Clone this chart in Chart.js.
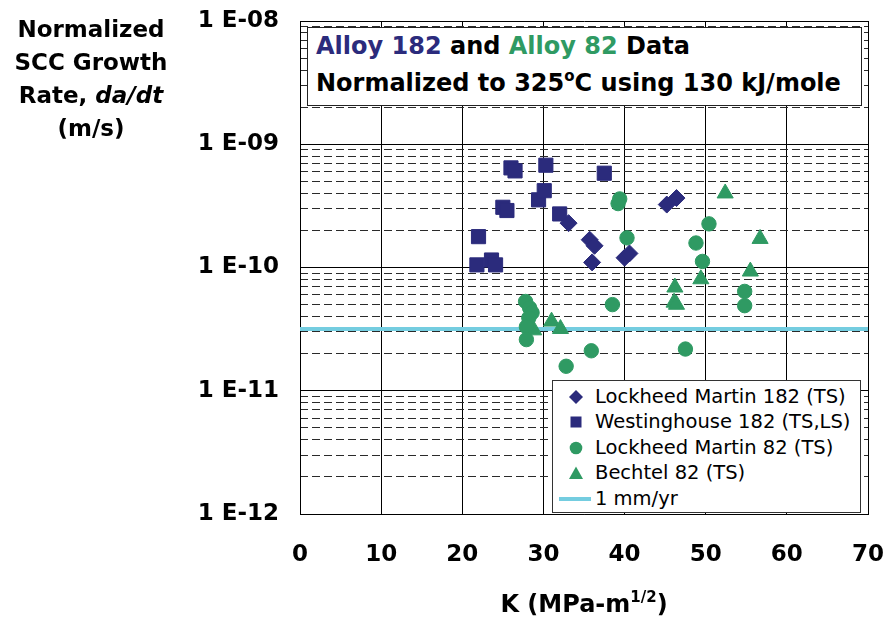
<!DOCTYPE html>
<html>
<head>
<meta charset="utf-8">
<script src="https://cdn.jsdelivr.net/npm/chart.js@4.4.1/dist/chart.umd.min.js"></script>
<style>
html,body{margin:0;padding:0;background:#fff;}
#wrap{position:relative;width:890px;height:621px;overflow:hidden;font-family:"DejaVu Sans",sans-serif;color:#000;}
#c{position:absolute;left:0;top:0;}
#ytitle{position:absolute;left:0;top:13px;width:182px;text-align:center;font-weight:bold;font-size:23px;line-height:33px;}
#xtitle{position:absolute;left:300px;width:568px;top:588px;text-align:center;font-weight:bold;font-size:24px;line-height:32px;white-space:nowrap;}
#xtitle sup,#note sup{font-size:15px;vertical-align:baseline;position:relative;top:-10px;}
#note{position:absolute;left:307px;top:27px;width:553px;height:77px;border:1px solid #222;background:#fff;font-weight:bold;font-size:24px;line-height:37px;white-space:nowrap;}
#note div{padding-left:8px;}
#legend{position:absolute;left:552px;top:380px;width:307px;height:131px;border:1px solid #333;background:#fff;font-size:19.5px;}
.row{position:absolute;left:0;height:26px;width:307px;}
.row svg{position:absolute;left:4px;top:0;}
.row span{position:absolute;left:42px;top:0;line-height:26px;white-space:nowrap;}
</style>
</head>
<body>
<div id="wrap">
  <canvas id="c" width="890" height="621"></canvas>
  <div id="ytitle">Normalized<br>SCC Growth<br>Rate, <i>da/dt</i><br>(m/s)</div>
  <div id="note">
    <div><span style="color:#2b2b7c">Alloy 182</span> and <span style="color:#2f9a63">Alloy 82</span> Data</div>
    <div>Normalized to 325<sup>o</sup>C using 130 kJ/mole</div>
  </div>
  <div id="legend"></div>
  <div id="xtitle">K (MPa-m<sup>1/2</sup>)</div>
</div>
<script>
// ---- data ----
const xTickValues = [0, 10, 20, 30, 40, 50, 60, 70];
const yTickValues = [1e-12, 1e-11, 1e-10, 1e-9, 1e-8];
const yTickLabels = ['1 E-12', '1 E-11', '1 E-10', '1 E-09', '1 E-08'];
const yDecades = [1e-12, 1e-11, 1e-10, 1e-9];
const yMinorMultipliers = [2, 3, 4, 5, 6, 7, 8, 9];

const seriesNames = ['Lockheed Martin 182 (TS)', 'Westinghouse 182 (TS,LS)', 'Lockheed Martin 82 (TS)', 'Bechtel 82 (TS)', '1 mm/yr'];

const lmt182K    = [33.1, 35.7, 36.3, 36.0, 40.0, 40.6, 45.2, 46.4];
const lmt182Rate = [2.29e-10, 1.68e-10, 1.50e-10, 1.10e-10, 1.20e-10, 1.30e-10, 3.24e-10, 3.66e-10];

const west182K    = [22.0, 21.8, 23.6, 24.1, 25.0, 25.5, 26.0, 26.5, 29.4, 30.1, 30.3, 32.0, 37.5];
const west182Rate = [1.78e-10, 1.05e-10, 1.15e-10, 1.05e-10, 3.08e-10, 2.90e-10, 6.43e-10, 6.08e-10, 3.54e-10, 4.20e-10, 6.76e-10, 2.72e-10, 5.82e-10];

const lmt82K    = [39.2, 39.4, 40.3, 27.8, 28.3, 28.6, 28.2, 27.9, 27.9, 32.8, 35.9, 38.5, 47.5, 50.4, 48.8, 49.6, 54.8, 54.8];
const lmt82Rate = [3.3e-10, 3.6e-10, 1.74e-10, 5.3e-11, 4.7e-11, 4.3e-11, 3.9e-11, 3.3e-11, 2.6e-11, 1.58e-11, 2.11e-11, 5.0e-11, 2.18e-11, 2.26e-10, 1.58e-10, 1.12e-10, 6.4e-11, 4.9e-11];

const bechtel82K    = [31.0, 32.1, 28.8, 52.4, 56.7, 55.5, 49.4, 46.2, 46.1, 46.4];
const bechtel82Rate = [3.65e-11, 3.18e-11, 3.1e-11, 4.0e-10, 1.71e-10, 9.3e-11, 8.05e-11, 6.9e-11, 5.2e-11, 5.0e-11];

const mmPerYearK    = [0, 70];
const mmPerYearRate = [3.17e-11, 3.17e-11];

// ---- styles ----
const navy = '#2b2b7c', green = '#2f9a63', cyan = '#74cde0';

const pts = (xs, ys) => xs.map((x, i) => ({x: x, y: ys[i]}));
const yMinorTickValues = [];
yDecades.forEach(d => yMinorMultipliers.forEach(m => yMinorTickValues.push(m * d)));

const tickFont = {family: 'DejaVu Sans', size: 23, weight: 'bold'};
const noPad = s => { s.paddingLeft = 0; s.paddingRight = 0; s.paddingTop = 0; s.paddingBottom = 0; };

new Chart(document.getElementById('c'), {
  type: 'scatter',
  data: {
    datasets: [
      {label: seriesNames[0], data: pts(lmt182K, lmt182Rate), pointStyle: 'rectRot', pointRadius: 8.5,
       backgroundColor: navy, borderColor: navy, borderWidth: 1, yAxisID: 'y', order: 1},
      {label: seriesNames[1], data: pts(west182K, west182Rate), pointStyle: 'rect', pointRadius: 10,
       backgroundColor: navy, borderColor: navy, borderWidth: 1, yAxisID: 'y', order: 2},
      {label: seriesNames[2], data: pts(lmt82K, lmt82Rate), pointStyle: 'circle', pointRadius: 7.2,
       backgroundColor: green, borderColor: green, borderWidth: 1, yAxisID: 'y', order: 3},
      {label: seriesNames[3], data: pts(bechtel82K, bechtel82Rate), pointStyle: 'triangle', pointRadius: 9.3,
       backgroundColor: green, borderColor: green, borderWidth: 1, yAxisID: 'y', order: 4},
      {type: 'line', label: seriesNames[4], data: pts(mmPerYearK, mmPerYearRate), borderColor: cyan,
       backgroundColor: cyan, borderWidth: 4, pointRadius: 0, showLine: true, fill: false, yAxisID: 'y', order: 10}
    ]
  },
  options: {
    responsive: false,
    animation: false,
    devicePixelRatio: 1,
    layout: {padding: {top: 21, right: 22, bottom: 0, left: 0}},
    plugins: {legend: {display: false}, tooltip: {enabled: false}},
    scales: {
      x: {
        type: 'linear', min: 0, max: 70, position: 'bottom',
        afterBuildTicks: s => { s.ticks = xTickValues.map(v => ({value: v})); },
        afterFit: s => { s.height = 107; noPad(s); },
        ticks: {padding: 27, color: '#000', font: tickFont, autoSkip: false, maxRotation: 0},
        grid: {color: '#000', lineWidth: 1, drawTicks: false},
        border: {display: true, color: '#000', width: 1}
      },
      y: {
        type: 'logarithmic', min: 1e-12, max: 1e-8, position: 'left',
        afterBuildTicks: s => { s.ticks = yTickValues.map(v => ({value: v, major: true})); },
        afterFit: s => { s.width = 300; noPad(s); },
        ticks: {padding: 21, color: '#000', font: tickFont, autoSkip: false,
                callback: (v, i) => yTickLabels[i]},
        grid: {color: '#000', lineWidth: 1, drawTicks: false},
        border: {display: true, color: '#000', width: 1}
      },
      y2: {
        type: 'logarithmic', min: 1e-12, max: 1e-8, position: 'right',
        afterBuildTicks: s => { s.ticks = yMinorTickValues.map(v => ({value: v})); },
        afterFit: s => { s.width = 0; noPad(s); },
        ticks: {display: false},
        grid: {color: '#2a2a2a', lineWidth: 1, drawTicks: false},
        border: {display: false, dash: [8, 4]}
      }
    }
  }
});

// ---- legend (HTML) ----
const legendRows = [
  {name: seriesNames[0], svg: '<polygon points="19,6 26,13 19,20 12,13" fill="' + navy + '"/>'},
  {name: seriesNames[1], svg: '<rect x="13.5" y="7.5" width="11" height="11" fill="' + navy + '"/>'},
  {name: seriesNames[2], svg: '<circle cx="19" cy="13" r="6.3" fill="' + green + '"/>'},
  {name: seriesNames[3], svg: '<polygon points="19,6.5 26,19 12,19" fill="' + green + '"/>'},
  {name: seriesNames[4], svg: '<line x1="2" y1="13" x2="34" y2="13" stroke="' + cyan + '" stroke-width="4"/>'}
];
const legendCenters = [16, 41, 67, 92, 118];
const lg = document.getElementById('legend');
legendRows.forEach((r, i) => {
  const d = document.createElement('div');
  d.className = 'row';
  d.style.top = (legendCenters[i] - 13) + 'px';
  d.innerHTML = '<svg width="36" height="26" viewBox="0 0 36 26">' + r.svg + '</svg><span>' + r.name + '</span>';
  lg.appendChild(d);
});
</script>
</body>
</html>
